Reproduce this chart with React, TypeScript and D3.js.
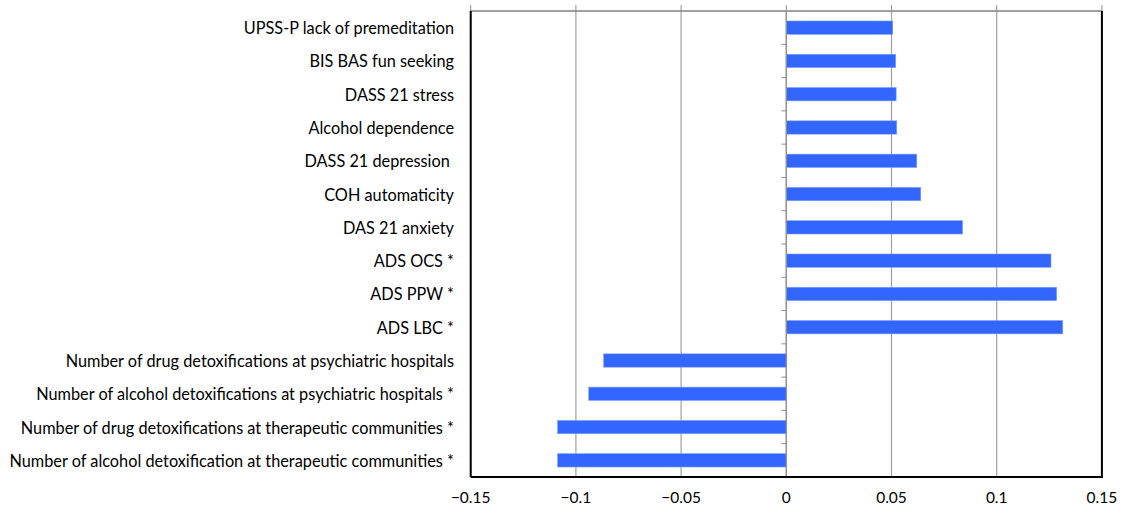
import React from "react";
import * as d3 from "d3";

const categories = [
  "UPSS-P lack of premeditation",
  "BIS BAS fun seeking",
  "DASS 21 stress",
  "Alcohol dependence",
  "DASS 21 depression ",
  "COH automaticity",
  "DAS 21 anxiety",
  "ADS OCS *",
  "ADS PPW *",
  "ADS LBC *",
  "Number of drug detoxifications at psychiatric hospitals",
  "Number of alcohol detoxifications at psychiatric hospitals *",
  "Number of drug detoxifications at therapeutic communities *",
  "Number of alcohol detoxification at therapeutic communities *",
];

const values = [
  0.0506, 0.052, 0.0522, 0.0525, 0.062, 0.0639, 0.0838, 0.1258, 0.1285, 0.1314,
  -0.0868, -0.0939, -0.1087, -0.1087,
];

const xTicks = [-0.15, -0.1, -0.05, 0, 0.05, 0.1, 0.15];
const xTickLabels = ["\u22120.15", "\u22120.1", "\u22120.05", "0", "0.05", "0.1", "0.15"];

const W = 1121;
const H = 509;
const left = 470.7;
const right = 1101.9;
const top = 11;
const bottom = 477;

export default function App() {
  const x = d3.scaleLinear().domain([-0.15, 0.15]).range([left, right]);
  const y = d3
    .scaleBand<string>()
    .domain(categories)
    .range([top, bottom])
    .paddingInner(0.6)
    .paddingOuter(0.3);
  const step = y.step();
  const x0 = x(0);
  const font = "Lato, 'Open Sans', sans-serif";

  return (
    <svg
      width={W}
      height={H}
      style={{ position: "absolute", left: 0, top: 0, background: "#fff" }}
      fontFamily={font}
    >
      {xTicks.map((t, i) => (
        <line
          key={"g" + i}
          x1={x(t)}
          x2={x(t)}
          y1={top}
          y2={bottom}
          stroke="#a0a0a0"
          strokeWidth={1.2}
        />
      ))}
      <line x1={left} x2={right} y1={top} y2={top} stroke="#808080" strokeWidth={1.5} />
      {xTicks.map((t, i) => (
        <line
          key={"tt" + i}
          x1={x(t)}
          x2={x(t)}
          y1={top - 6}
          y2={top}
          stroke="#909090"
          strokeWidth={1}
        />
      ))}
      {categories.map((c, i) => {
        const v = values[i];
        const x1 = x(Math.min(0, v));
        const x2 = x(Math.max(0, v));
        return (
          <rect
            key={"b" + i}
            x={x1}
            y={y(c)!}
            width={x2 - x1}
            height={y.bandwidth()}
            fill="#3366ff"
            stroke="#7d9bff"
            strokeWidth={0.6}
          />
        );
      })}
      <line x1={x0} x2={x0} y1={top} y2={bottom} stroke="#909090" strokeWidth={1.2} />
      {categories.map((c, i) =>
        i === 0 ? null : (
          <line
            key={"yt" + i}
            x1={x0 - 5}
            x2={x0}
            y1={top + step * i}
            y2={top + step * i}
            stroke="#909090"
            strokeWidth={1}
          />
        )
      )}
      <line x1={left} x2={left} y1={top} y2={bottom} stroke="#000" strokeWidth={2} />
      <line x1={right} x2={right} y1={top} y2={bottom + 1} stroke="#000" strokeWidth={2} />
      <line x1={left} x2={right} y1={bottom} y2={bottom} stroke="#000" strokeWidth={2} />
      {categories.map((c, i) => (
        <text
          key={"l" + i}
          x={454}
          y={y(c)! + y.bandwidth() / 2}
          textAnchor="end"
          dominantBaseline="central"
          fontSize={16.3}
          fill="#000"
          style={{ whiteSpace: "pre" }}
        >
          {c}
        </text>
      ))}
      {xTicks.map((t, i) => (
        <text
          key={"xl" + i}
          x={x(t)}
          y={497}
          textAnchor="middle"
          dominantBaseline="central"
          fontSize={15.5}
          fill="#000"
        >
          {xTickLabels[i]}
        </text>
      ))}
    </svg>
  );
}
